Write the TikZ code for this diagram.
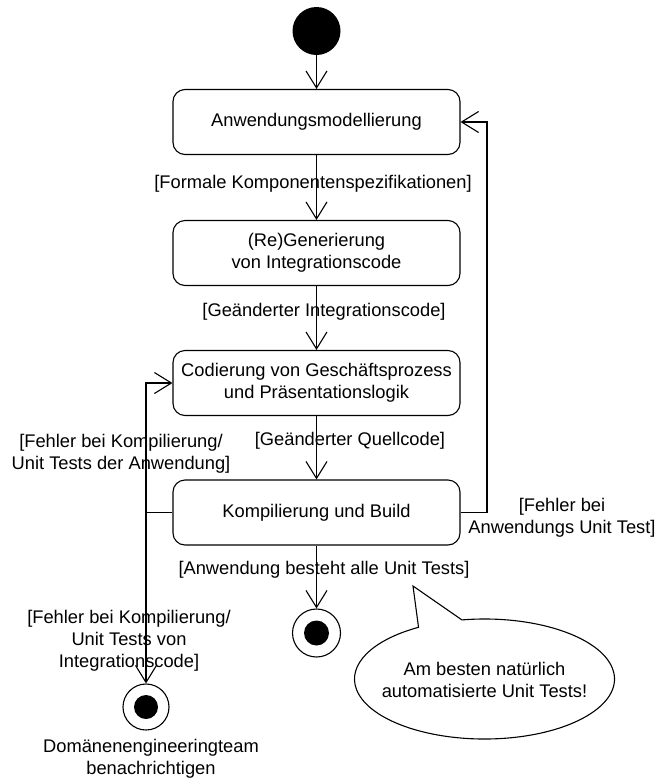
\documentclass[tikz,border=0pt]{standalone}
\usepackage{fontspec}
\setmainfont{Liberation Sans}
\usetikzlibrary{arrows.meta}
\begin{document}
\begin{tikzpicture}[x=1pt,y=-1pt,
  every node/.style={font=\fontsize{18.3}{22}\selectfont, align=center},
  act/.style={draw, line width=1.1pt, rounded corners=12pt, minimum width=287pt, minimum height=65pt, inner sep=0pt},
  lbl/.style={inner sep=0pt, fill=none},
  arr/.style={line width=1.1pt, -{Straight Barb[length=17pt,width=21pt,line width=1.1pt]}},
  ln/.style={line width=1.1pt}]
\useasboundingbox (0,0) rectangle (658,780);
\fill[white] (0,0) rectangle (658,780);
% start
\node[circle, fill=black, minimum size=48pt, inner sep=0pt] (start) at (316.5,31) {};
% activities
\node[act] (b1) at (316.5,122) {Anwendungsmodellierung};
\node[act] (b2) at (316.5,253) {(Re)Generierung\\von Integrationscode};
\node[act] (b3) at (316.5,383) {Codierung von Geschäftsprozess\\und Präsentationslogik};
\node[act] (b4) at (316.5,512.5) {Kompilierung und Build};
% final states
\node[circle, draw, line width=1.1pt, minimum size=48pt, inner sep=0pt] (f1) at (316.5,633) {};
\node[circle, fill=black, minimum size=25pt, inner sep=0pt] (f1in) at (f1) {};
\node[circle, draw, line width=1.1pt, minimum size=46pt, inner sep=0pt] (f2) at (146,707) {};
\node[circle, fill=black, minimum size=24pt, inner sep=0pt] (f2in) at (f2) {};
% connectors
\draw[arr] (start) -- (b1);
\draw[arr] (b1) -- (b2);
\draw[arr] (b2) -- (b3);
\draw[arr] (b3) -- (b4);
\draw[arr] (b4) -- (f1);
\coordinate (split) at (146,512.5);
\draw[ln] (b4.west) -- (split);
\draw[arr] (split) |- (b3.west);
\draw[arr] (split) -- (f2);
\coordinate (rt) at (487,512.5);
\draw[ln] (b4.east) -- (rt);
\draw[arr] (rt) |- (b1.east);
% labels
\node[lbl] (l1) at (313,184) {[Formale Komponentenspezifikationen]};
\node[lbl] (l2) at (324,312) {[Geänderter Integrationscode]};
\node[lbl] (l3) at (350,441) {[Geänderter Quellcode]};
\node[lbl] (l4) at (121,454) {[Fehler bei Kompilierung/\\Unit Tests der Anwendung]};
\node[lbl] (l5) at (562,518) {[Fehler bei\\Anwendungs Unit Test]};
\node[lbl] (l6) at (324,570) {[Anwendung besteht alle Unit Tests]};
\node[lbl] (l7) at (129,641) {[Fehler bei Kompilierung/\\Unit Tests von\\Integrationscode]};
\node[lbl] (l8) at (151,759) {Domänenengineeringteam\\benachrichtigen};
% callout
\coordinate (callc) at (484.5,679);
\coordinate (tip) at (413,586);
\filldraw[ln, fill=white] (callc) ++(100:130pt and 60pt) arc[start angle=100, end angle=-239.5, x radius=130pt, y radius=60pt] -- (tip) -- cycle;
\node[lbl] (note) at (484.5,680) {Am besten natürlich\\automatisierte Unit Tests!};
\end{tikzpicture}
\end{document}
